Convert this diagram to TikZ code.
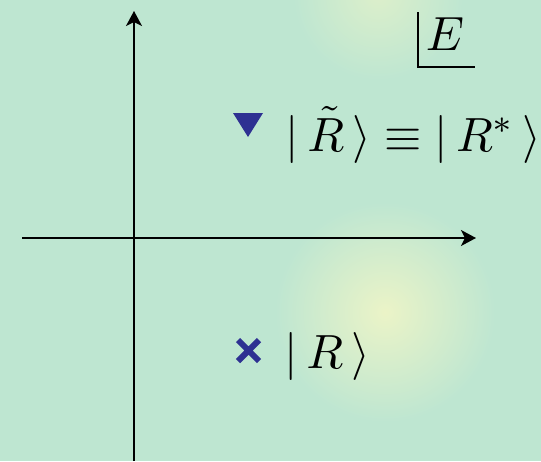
\documentclass[tikz,border=0pt]{standalone}
\usetikzlibrary{arrows.meta}
\definecolor{bgreen}{HTML}{BEE6D1}
\definecolor{glow}{HTML}{F0F5C6}
\definecolor{markblue}{HTML}{2E3192}
\tikzset{
  axis/.style={line width=1.5pt, -{Stealth[length=15pt,width=16pt,inset=4pt]}},
  lbl/.style={inner sep=0pt, scale=4.8},
}
\begin{document}
\begin{tikzpicture}[x=1pt,y=-1pt]
\useasboundingbox (0,0) rectangle (541,461);
\fill[bgreen] (0,0) rectangle (541,461);
\begin{scope}
\clip (0,0) rectangle (541,461);
\shade[inner color=glow!90!bgreen, outer color=bgreen] (385,312) circle (110);
\shade[inner color=glow!60!bgreen, outer color=bgreen] (378,-5) circle (85);
\end{scope}
% axes
\coordinate (ybot) at (134,461);
\coordinate (ytop) at (134,11);
\coordinate (xl) at (22,238);
\coordinate (xr) at (476,238);
\draw[axis] (ybot) -- (ytop);
\draw[axis] (xl) -- (xr);
% E label with corner
\coordinate (ca) at (418,12);
\coordinate (cb) at (418,67);
\coordinate (cc) at (475,67);
\draw[line width=1.5pt] (ca) -- (cb) -- (cc);
\node[lbl, anchor=base west] (E) at (425,50) {$E$};
% markers
\fill[markblue] (233,113) -- (263,113) -- (248,137) -- cycle;
\draw[markblue, line width=6pt] (238,340) -- (259,361) (238,361) -- (259,340);
% labels
\node[lbl, anchor=base west] (Rt) at (285,151) {$|\,\tilde R\,\rangle \equiv |\,R^*\,\rangle$};
\node[lbl, anchor=base west] (R) at (284,368) {$|\,R\,\rangle$};
\end{tikzpicture}
\end{document}
